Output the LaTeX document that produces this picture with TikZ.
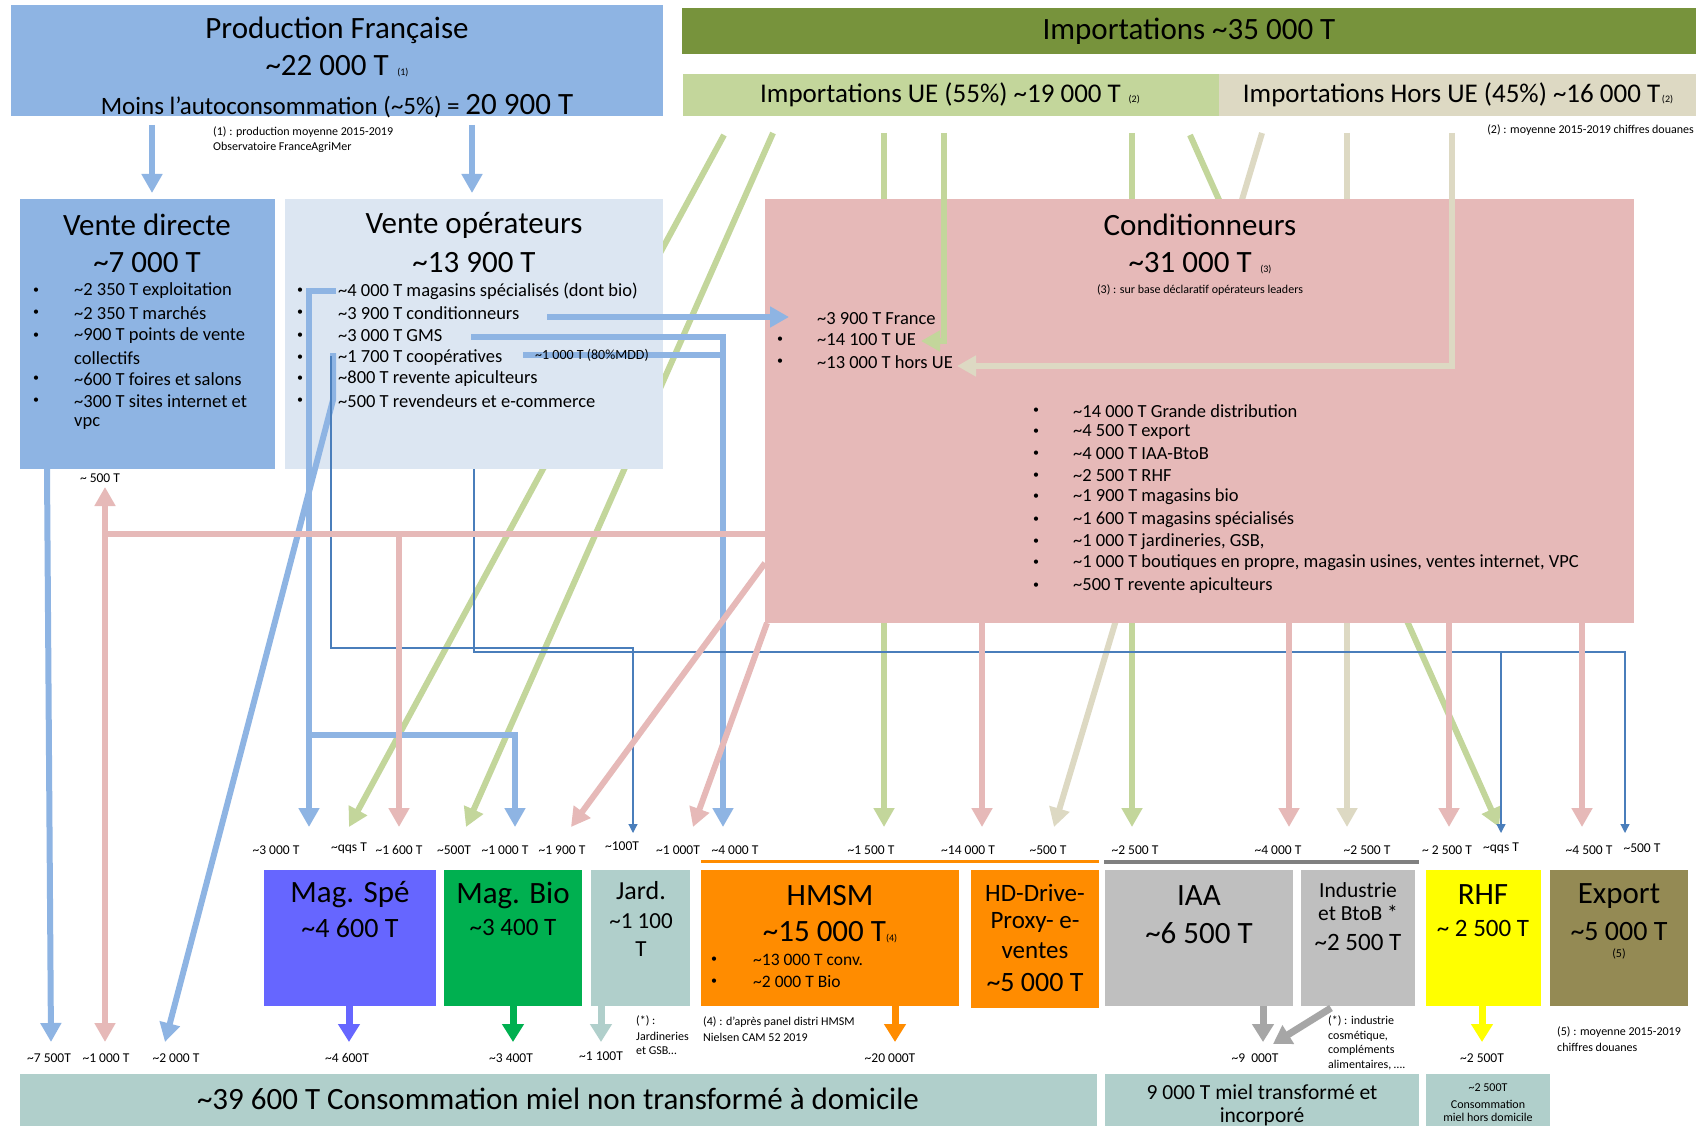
\documentclass[tikz,border=0pt]{standalone}
\usepackage{fontspec}
\setmainfont{Carlito}
\usetikzlibrary{arrows.meta}
\newcommand\apx{\textasciitilde}
\newcommand\fsz[1]{\fontsize{#1}{#1}\selectfont}
\definecolor{bleuprod}{HTML}{8EB4E3}
\definecolor{bleuclair}{HTML}{DCE6F2}
\definecolor{vertimp}{HTML}{77933C}
\definecolor{vertue}{HTML}{C3D69B}
\definecolor{beigehue}{HTML}{DDD9C3}
\definecolor{rosecond}{HTML}{E6B9B8}
\definecolor{violetspe}{HTML}{6666FF}
\definecolor{vertbio}{HTML}{00B050}
\definecolor{grisbleu}{HTML}{B0CFCB}
\definecolor{orangehm}{HTML}{FF8C00}
\definecolor{grisiaa}{HTML}{BFBFBF}
\definecolor{jaunerhf}{HTML}{FFFF00}
\definecolor{olivexp}{HTML}{948A54}
\definecolor{bleufin}{HTML}{4A7EBB}
\definecolor{grisfleche}{HTML}{A6A6A6}
\definecolor{grisligne}{HTML}{808080}
\begin{document}
\begin{tikzpicture}[x=1pt, y=-1pt,
  bloc/.style={anchor=north west, inner sep=0pt, outer sep=0pt},
  flux/.style={line width=6pt, -{Triangle[width=20pt,length=19pt]}},
  fluxbas/.style={line width=7pt, -{Triangle[width=21pt,length=18pt]}},
  fin/.style={bleufin, line width=1.2pt, -{Triangle[width=9pt,length=9pt]}},
  titre/.style={inner sep=0pt, font=\fsz{31}},
  liste/.style={anchor=west, inner sep=0pt, font=\fsz{18.5}},
  puce/.style={anchor=west, inner sep=0pt, font=\fsz{12}},
  etiq/.style={inner sep=0pt, font=\fsz{13.5}},
  note/.style={anchor=west, inner sep=0pt, font=\fsz{12}}]
\path[use as bounding box, fill=white] (0,0) rectangle (1699,1126);

% points de passage des flux
\foreach \n/\x/\y in {b1a/152/125, b1b/152/193, b2a/472/125, b2b/472/193,
  b3a/47/469, b3b/51/1042,
  b4a/336/291, b4b/309/291, b4c/309/827, b4d/309/735, b4e/515/735, b4f/515/827,
  b5a/333/353, b5b/333/400, b5c/165/1042, b6a/547/317, b6b/789/317,
  b7a/471/337, b7b/723/827, b8a/523/355, b8b/723/355,
  t1a/331/356, t1b/633/648, t1c/633/833,
  t2a/474/469, t2b/1625/652, t2c/1625/833, t2d/1501/652, t2e/1501/833,
  g1a/724/135, g1b/349/827, g2a/773/133, g2b/466/827, g3a/884/133, g3b/884/827,
  g4a/944/133, g4b/921/341, g5a/1132/133, g5b/1132/827, g6a/1190/135, g6b/1499/827,
  e1a/1262/133, e1b/1054/827, e2a/1347/133, e2b/1347/827, e3a/1452/133, e3b/957/366,
  p1a/765/534, p1b/105/534, p1c/105/487, p1d/105/1042, p1e/399/534, p1f/399/827,
  p2a/765/563, p2b/571/827, p3a/767/623, p3b/693/827,
  p4b/982/827, p5b/1289/827, p6b/1449/827, p7b/1582/827,
  f4600/349/1042, f3400/513/1042, f1100/601/1042, f20000/895/1042,
  f9000/1263/1042, fbtob/1331/1008, f9000b/1273/1044, f2500/1482/1042,
  o1/701/861, o2/1099/861, r1/1104/862, r2/1419/862}
  \coordinate (\n) at (\x,\y);

% flux importations (sous les blocs)
\draw[flux, vertue] (g1a) -- (g1b);
\draw[flux, vertue] (g2a) -- (g2b);
\draw[flux, vertue] (g3a) -- (g3b);
\draw[flux, vertue] (g5a) -- (g5b);
\draw[flux, vertue] (g6a) -- (g6b);
\draw[flux, beigehue] (e1a) -- (e1b);
\draw[flux, beigehue] (e2a) -- (e2b);

% blocs
\foreach \n/\c/\xa/\ya/\xb/\yb in {prod/bleuprod/11/5/663/116,
  imp/vertimp/682/8/1696/54, impUE/vertue/683/74/1219/116, impHUE/beigehue/1219/74/1696/116,
  vdir/bleuprod/20/199/275/469, vop/bleuclair/285/199/663/469, cond/rosecond/765/199/1634/623,
  mspe/violetspe/264/870/436/1006, mbio/vertbio/444/870/582/1006, jard/grisbleu/591/870/690/1006,
  hmsm/orangehm/701/870/959/1006, hd/orangehm/971/870/1099/1008, iaa/grisiaa/1105/870/1293/1006,
  indu/grisiaa/1301/870/1415/1006, rhf/jaunerhf/1426/870/1541/1006, expo/olivexp/1550/870/1688/1006,
  consdom/grisbleu/20/1074/1097/1126, transf/grisbleu/1105/1074/1419/1126,
  horsdom/grisbleu/1426/1074/1550/1126}
  \node[bloc, fill=\c, minimum width={(\xb-\xa)*1pt}, minimum height={(\yb-\ya)*1pt}] (\n) at (\xa,\ya) {};

\draw[orangehm, line width=3pt] (o1) -- (o2);
\draw[grisligne, line width=4pt] (r1) -- (r2);

% flux production
\draw[flux, bleuprod] (b1a) -- (b1b);
\draw[flux, bleuprod] (b2a) -- (b2b);
\draw[flux, bleuprod] (b3a) -- (b3b);
\draw[flux, bleuprod] (b4a) -- (b4b) -- (b4c);
\draw[flux, bleuprod] (b4d) -- (b4e) -- (b4f);
\draw[flux, bleuprod] (b5a) -- (b5b) -- (b5c);
\draw[flux, bleuprod] (b6a) -- (b6b);
\draw[flux, bleuprod] (b7a) -| (b7b);
\draw[line width=6pt, bleuprod] (b8a) -- (b8b);
\draw[fin] (t1a) |- (t1b) -- (t1c);
\draw[fin] (t2a) |- (t2b) -- (t2c);
\draw[fin] (t2d) -- (t2e);

% flux importations vers conditionneurs
\draw[flux, vertue] (g4a) |- (g4b);
\draw[flux, beigehue] (e3a) |- (e3b);

% flux conditionneurs
\draw[flux, rosecond] (p1a) -- (p1b) -- (p1c);
\draw[flux, rosecond] (p1b) -- (p1d);
\draw[flux, rosecond] (p1e) -- (p1f);
\draw[flux, rosecond] (p2a) -- (p2b);
\draw[flux, rosecond] (p3a) -- (p3b);
\foreach \p in {p4b, p5b, p6b, p7b}
  \draw[flux, rosecond] (cond.south -| \p) -- (\p);

% flux vers la consommation
\draw[fluxbas, violetspe] (mspe.south -| f4600) -- (f4600);
\draw[fluxbas, vertbio] (mbio.south -| f3400) -- (f3400);
\draw[fluxbas, grisbleu] (jard.south -| f1100) -- (f1100);
\draw[fluxbas, orangehm] (hmsm.south -| f20000) -- (f20000);
\draw[fluxbas, grisfleche] (iaa.south -| f9000) -- (f9000);
\draw[fluxbas, grisfleche] (fbtob) -- (f9000b);
\draw[fluxbas, jaunerhf] (rhf.south -| f2500) -- (f2500);

% textes du haut
\node[titre] (tprod) at (337,30) {Production Française};
\node[titre] (qprod) at (337,66) {\apx{}22 000 T {\fsz{10}\,(1)}};
\node[inner sep=0pt] (aprod) at (337,106) {\fsz{25}Moins l’autoconsommation (\apx{}5\%) = {\fsz{31}20 900 T}};
\node[titre] (timp) at (1189,31) {Importations \apx{}35 000 T};
\node[inner sep=0pt, font=\fsz{27}] (tue) at (950,95) {Importations UE (55\%) \apx{}19 000 T {\fsz{10}\,(2)}};
\node[inner sep=0pt, font=\fsz{27}] (thue) at (1458,95) {Importations Hors UE (45\%) \apx{}16 000 T{\fsz{10}\,(2)}};
\node[note] (n1a) at (213,132) {(1) : production moyenne 2015-2019};
\node[note] (n1b) at (213,147) {Observatoire FranceAgriMer};
\node[note, anchor=east] (n2) at (1694,130) {(2) : moyenne 2015-2019 chiffres douanes};

% vente directe
\node[titre] (tvdir) at (147,225) {Vente directe};
\node[titre] (qvdir) at (147,263) {\apx{}7 000 T};
\foreach \y in {291,313,336,379,401}
  \node[puce] (pvd\y) at (33,\y) {\textbullet};
\foreach \y/\t in {291/{\apx{}2 350 T exploitation}, 313/{\apx{}2 350 T marchés},
  336/{\apx{}900 T points de vente}, 358/{collectifs}, 379/{\apx{}600 T foires et salons},
  401/{\apx{}300 T sites internet et}, 423/{vpc}}
  \node[liste] (vd\y) at (74,\y) {\t};

% vente operateurs
\node[titre] (tvop) at (474,225) {Vente opérateurs};
\node[titre] (qvop) at (474,263) {\apx{}13 900 T};
\foreach \y/\t in {291/{\apx{}4 000 T magasins spécialisés (dont bio)}, 313/{\apx{}3 900 T conditionneurs},
  336/{\apx{}3 000 T GMS}, 358/{\apx{}1 700 T coopératives}, 379/{\apx{}800 T revente apiculteurs},
  401/{\apx{}500 T revendeurs et e-commerce}}{
  \node[puce] (pvo\y) at (297,\y) {\textbullet};
  \node[liste] (vo\y) at (338,\y) {\t};}
\node[anchor=west, inner sep=0pt, font=\fsz{14}] (mdd) at (535,355) {\apx{}1 000 T (80\%MDD)};

% conditionneurs
\node[titre] (tcond) at (1200,225) {Conditionneurs};
\node[titre] (qcond) at (1200,263) {\apx{}31 000 T {\fsz{10}\,(3)}};
\node[inner sep=0pt, font=\fsz{12}] (n3) at (1200,290) {(3) : sur base déclaratif opérateurs leaders};
\foreach \y in {340, 362}
  \node[puce] (pca\y) at (777,\y) {\textbullet};
\foreach \y/\t in {319/{\apx{}3 900 T France}, 340/{\apx{}14 100 T UE}, 362/{\apx{}13 000 T hors UE}}
  \node[liste] (ca\y) at (817,\y) {\t};
\foreach \y/\t in {411/{\apx{}14 000 T Grande distribution}, 432/{\apx{}4 500 T export},
  454/{\apx{}4 000 T IAA-BtoB}, 476/{\apx{}2 500 T RHF}, 497/{\apx{}1 900 T magasins bio},
  520/{\apx{}1 600 T magasins spécialisés}, 542/{\apx{}1 000 T jardineries, GSB,},
  563/{\apx{}1 000 T boutiques en propre, magasin usines, ventes internet, VPC},
  586/{\apx{}500 T revente apiculteurs}}{
  \node[puce] (pcb\y) at (1033,\y) {\textbullet};
  \node[liste] (cb\y) at (1073,\y) {\t};}

% etiquettes des flux
\foreach \x/\y/\t in {276/850/{\apx{}3 000 T}, 349/848/{\apx{}qqs T}, 399/850/{\apx{}1 600 T},
  454/850/{\apx{}500T}, 505/850/{\apx{}1 000 T}, 562/850/{\apx{}1 900 T}, 622/846/{\apx{}100T},
  678/850/{\apx{}1 000T}, 735/850/{\apx{}4 000 T}, 871/850/{\apx{}1 500 T}, 968/850/{\apx{}14 000 T},
  1048/850/{\apx{}500 T}, 1135/850/{\apx{}2 500 T}, 1278/850/{\apx{}4 000 T}, 1367/850/{\apx{}2 500 T},
  1447/850/{\apx{} 2 500 T}, 1501/848/{\apx{}qqs T}, 1589/850/{\apx{}4 500 T}, 1642/848/{\apx{}500 T},
  49/1058/{\apx{}7 500T}, 106/1058/{\apx{}1 000 T}, 176/1058/{\apx{}2 000 T}, 347/1058/{\apx{}4 600T},
  511/1058/{\apx{}3 400T}, 601/1056/{\apx{}1 100T}, 890/1058/{\apx{}20 000T},
  1255/1058/{\apx{}9\ \ 000T}, 1482/1058/{\apx{}2 500T}, 100/478/{\apx{} 500 T}}
  \node[etiq] (l-\x-\y) at (\x,\y) {\t};

% textes des blocs du bas
\foreach \x/\y/\s/\t in {350/895/31/{Mag. Spé}, 350/928/28/{\apx{}4 600 T},
  513/895/31/{Mag. Bio}, 513/927/25/{\apx{}3 400 T},
  641/891/26/{Jard.}, 641/921/23/{\apx{}1 100}, 641/949/23/{T},
  830/896/31/{HMSM}, 830/932/31/{\apx{}15 000 T{\fsz{10}(4)}},
  1035/893/25/{HD-Drive-}, 1035/922/25/{Proxy- e-}, 1035/951/25/{ventes}, 1035/982/28/{\apx{}5 000 T},
  1199/896/31/{IAA}, 1199/933/31/{\apx{}6 500 T},
  1358/890/21.5/{Industrie}, 1358/913/21.5/{et BtoB *}, 1358/942/25/{\apx{}2 500 T},
  1483/895/31/{RHF}, 1483/928/25/{\apx{} 2 500 T},
  1619/896/31/{Export}, 1619/931/28/{\apx{}5 000 T}, 1619/954/12/{(5)},
  558/1099/31/{\apx{}39 600 T Consommation miel non transformé à domicile},
  1262/1092/21.5/{9 000 T miel transformé et}, 1262/1117/21.5/{incorporé},
  1488/1088/12/{\apx{}2 500T}, 1488/1104/12/{Consommation}, 1488/1117/12/{miel hors domicile}}
  \node[inner sep=0pt, font=\fsz{\s}] (b-\x-\y) at (\x,\y) {\t};
\foreach \y/\t in {960/{\apx{}13 000 T conv.}, 982/{\apx{}2 000 T Bio}}{
  \node[puce] (phm\y) at (711,\y) {\textbullet};
  \node[liste, font=\fsz{17.5}] (hm\y) at (753,\y) {\t};}

% notes du bas
\foreach \x/\y/\t in {636/1021/{(*) :}, 636/1036/{Jardineries}, 636/1051/{et GSB…},
  703/1022/{(4) : d’après panel distri HMSM}, 703/1037/{Nielsen CAM 52 2019},
  1328/1021/{(*) : industrie}, 1328/1036/{cosmétique,}, 1328/1050/{compléments},
  1328/1065/{alimentaires, ….}, 1557/1032/{(5) : moyenne 2015-2019}, 1557/1047/{chiffres douanes}}
  \node[note] (n-\x-\y) at (\x,\y) {\t};
\end{tikzpicture}
\end{document}
